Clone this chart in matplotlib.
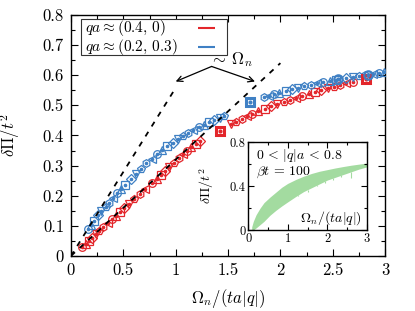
import matplotlib
matplotlib.use("Agg")
import matplotlib.pyplot as plt
import numpy as np
from matplotlib.ticker import MultipleLocator
from matplotlib.patches import Rectangle

plt.rcParams['font.family'] = ['cmr10', 'DejaVu Serif']
plt.rcParams['mathtext.fontset'] = 'cm'
plt.rcParams['axes.formatter.use_mathtext'] = True
plt.rcParams['axes.unicode_minus'] = False

# ---- data ----
red_x = [0.11, 0.14, 0.17, 0.20, 0.24, 0.27, 0.31, 0.35, 0.39, 0.43, 0.47, 0.51, 0.55,
         0.60, 0.66, 0.71, 0.77, 0.82, 0.86, 0.90, 0.94, 0.98, 1.03, 1.07, 1.11, 1.15,
         1.19, 1.23, 1.53, 1.58, 1.63, 1.68, 1.73, 1.79, 1.85, 1.91, 1.97, 2.03, 2.09,
         2.15, 2.21, 2.27, 2.33, 2.39, 2.45, 2.51, 2.57, 2.63, 2.69]
red_y = [0.030, 0.040, 0.050, 0.060, 0.072, 0.082, 0.095, 0.108, 0.121, 0.134, 0.147,
         0.160, 0.172, 0.188, 0.207, 0.222, 0.241, 0.257, 0.270, 0.283, 0.296, 0.309,
         0.325, 0.338, 0.350, 0.362, 0.373, 0.383, 0.437, 0.446, 0.455, 0.463, 0.471,
         0.480, 0.489, 0.497, 0.505, 0.512, 0.518, 0.525, 0.532, 0.538, 0.544, 0.550,
         0.556, 0.562, 0.568, 0.573, 0.578]
red_special_x = [1.42, 2.82]
red_special_y = [0.415, 0.587]

blue_x = [0.16, 0.19, 0.22, 0.26, 0.29, 0.33, 0.36, 0.40, 0.44, 0.48, 0.52, 0.57, 0.62,
          0.67, 0.72, 0.77, 0.82, 0.87, 0.92, 0.97, 1.02, 1.07, 1.12, 1.17, 1.22, 1.27,
          1.32, 1.37, 1.42, 1.46, 1.84, 1.89, 1.94, 1.99, 2.05, 2.11, 2.17, 2.23, 2.29,
          2.35, 2.41, 2.47, 2.53, 2.63, 2.69, 2.75, 2.81, 2.88, 2.94, 2.99]
blue_y = [0.090, 0.104, 0.117, 0.135, 0.148, 0.164, 0.176, 0.192, 0.208, 0.222, 0.237,
          0.255, 0.273, 0.290, 0.307, 0.322, 0.337, 0.351, 0.364, 0.376, 0.388, 0.398,
          0.408, 0.418, 0.427, 0.435, 0.443, 0.451, 0.459, 0.466, 0.526, 0.531, 0.537,
          0.542, 0.548, 0.554, 0.559, 0.564, 0.569, 0.573, 0.577, 0.581, 0.584, 0.590,
          0.593, 0.596, 0.600, 0.604, 0.608, 0.612]
blue_special_x = [1.71, 2.55, 2.84]
blue_special_y = [0.511, 0.587, 0.600]

marker_cycle = "o^sDvph<"

legend_labels = [r'$qa \approx (0.4,\, 0)$', r'$qa \approx (0.2,\, 0.3)$']

# dashed guide lines (~ Omega_n)
blue_line_x = [0.0, 1.0]
blue_line_y = [0.0, 0.558]
red_line_x = [0.0, 2.0]
red_line_y = [0.0, 0.64]

# inset band
band_x = [0.09, 0.13, 0.2, 0.3, 0.4, 0.55, 0.7, 0.85, 1.0, 1.2, 1.4, 1.6, 1.8, 2.0, 2.2, 2.4, 2.6, 2.8, 3.0]
band_hi = [0.03, 0.08, 0.14, 0.20, 0.25, 0.30, 0.345, 0.39, 0.425, 0.46, 0.49, 0.515, 0.535, 0.55, 0.565, 0.578, 0.59, 0.60, 0.61]
band_lo = [0.0, 0.0, 0.02, 0.05, 0.08, 0.135, 0.18, 0.22, 0.257, 0.305, 0.35, 0.385, 0.42, 0.455, 0.48, 0.505, 0.53, 0.555, 0.575]
spike_x = [1.25, 1.5, 1.75, 1.95, 2.15, 2.35, 2.6]
spike_lo = [0.31, 0.35, 0.40, 0.43, 0.46, 0.48, 0.47]

xticks = [0, 0.5, 1, 1.5, 2, 2.5, 3]
xticklabels = ["0", "0.5", "1", "1.5", "2", "2.5", "3"]
yticks = [0, 0.1, 0.2, 0.3, 0.4, 0.5, 0.6, 0.7, 0.8]
yticklabels = ["0", "0.1", "0.2", "0.3", "0.4", "0.5", "0.6", "0.7", "0.8"]
in_xticks = [0, 1, 2, 3]
in_xticklabels = ["0", "1", "2", "3"]
in_yticks = [0, 0.4, 0.8]
in_yticklabels = ["0", "0.4", "0.8"]

RED = '#e3262b'
BLUE = '#3f80c4'
GREEN = '#a3dba0'

fig = plt.figure(figsize=(4.15, 3.11), dpi=100)
ax = fig.add_axes([0.171, 0.177, 0.757, 0.775])

def scatter_series(xs, ys, color):
    for i, (x, y) in enumerate(zip(xs, ys)):
        m = marker_cycle[i % len(marker_cycle)]
        ax.plot([x], [y], linestyle='none', marker=m, ms=5.5, mfc='none',
                mec=color, mew=0.9, zorder=3)
    ax.plot(xs, ys, linestyle='none', marker='o', ms=1.6, color=color, zorder=3)

scatter_series(red_x, red_y, RED)
scatter_series(blue_x, blue_y, BLUE)
ax.plot(red_special_x, red_special_y, linestyle='none', marker='s', ms=6, mfc='none',
        mec=RED, mew=2.2, zorder=4)
ax.plot(red_special_x, red_special_y, linestyle='none', marker='o', ms=2, color=RED, zorder=4)
ax.plot(blue_special_x[:1], blue_special_y[:1], linestyle='none', marker='s', ms=6, mfc='none',
        mec=BLUE, mew=2.2, zorder=4)
ax.plot(blue_special_x[1:], blue_special_y[1:], linestyle='none', marker='o', ms=6, mfc='none',
        mec=BLUE, mew=1.6, zorder=4)
ax.plot(blue_special_x, blue_special_y, linestyle='none', marker='o', ms=2, color=BLUE, zorder=4)

ax.plot(blue_line_x, blue_line_y, color='black', ls=(0, (3.0, 3.5)), lw=1.3, zorder=5)
ax.plot(red_line_x, red_line_y, color='black', ls=(0, (3.0, 3.5)), lw=1.3, zorder=5)

# manual legend box (text left, line handle right)
ax.add_patch(Rectangle((0.032, 0.832), 0.465, 0.150, transform=ax.transAxes,
                       facecolor='white', edgecolor='#333333', lw=0.8, zorder=6))
for lab, col, yy in zip(legend_labels, [RED, BLUE], [0.947, 0.868]):
    ax.text(0.046, yy, lab, transform=ax.transAxes, fontsize=11, ha='left',
            va='center', zorder=7)
    ax.plot([0.405, 0.458], [yy, yy], transform=ax.transAxes, color=col, lw=1.5,
            zorder=7, solid_capstyle='butt')

# annotation
ax.text(1.53, 0.652, r'$\sim\,\Omega_n$', fontsize=12, ha='center', va='center')
ax.annotate('', xy=(1.0, 0.579), xytext=(1.343, 0.629),
            arrowprops=dict(arrowstyle='->', lw=0.9, color='black', shrinkA=0, shrinkB=0))
ax.annotate('', xy=(1.757, 0.579), xytext=(1.343, 0.629),
            arrowprops=dict(arrowstyle='->', lw=0.9, color='black', shrinkA=0, shrinkB=0))

ax.set_xlim(0, 3)
ax.set_ylim(0, 0.8)
ax.set_xticks(xticks)
ax.set_xticklabels(xticklabels)
ax.set_yticks(yticks)
ax.set_yticklabels(yticklabels)
ax.xaxis.set_minor_locator(MultipleLocator(0.25))
ax.yaxis.set_minor_locator(MultipleLocator(0.05))
ax.tick_params(which='both', direction='in', top=True, right=True, labelsize=12, pad=5)
ax.tick_params(which='major', length=5, width=0.8)
ax.tick_params(which='minor', length=3, width=0.8)
ax.set_xlabel(r'$\Omega_n/(ta|q|)$', fontsize=12)
ax.set_ylabel(r'$\delta\Pi/t^2$', fontsize=12)
ax.xaxis.set_label_coords(0.5, -0.13)
ax.yaxis.set_label_coords(-0.155, 0.5)
for s in ax.spines.values():
    s.set_linewidth(1.0)

# inset
axi = fig.add_axes([0.598, 0.260, 0.286, 0.283])
axi.fill_between(band_x, band_lo, band_hi, color=GREEN, lw=0)
axi.vlines(spike_x, spike_lo, [np.interp(s, band_x, band_lo) for s in spike_x],
           color=GREEN, lw=0.8)
axi.set_xlim(0, 3)
axi.set_ylim(0, 0.8)
axi.set_xticks(in_xticks)
axi.set_xticklabels(in_xticklabels)
axi.set_yticks(in_yticks)
axi.set_yticklabels(in_yticklabels)
axi.xaxis.set_minor_locator(MultipleLocator(0.5))
axi.yaxis.set_minor_locator(MultipleLocator(0.2))
axi.tick_params(which='both', direction='in', top=True, right=True, labelsize=9, pad=2)
axi.tick_params(which='major', length=4, width=0.8)
axi.tick_params(which='minor', length=2, width=0.8)
axi.set_ylabel(r'$\delta\Pi/t^2$', fontsize=10)
axi.yaxis.set_label_coords(-0.27, 0.5)
axi.text(0.07, 0.95, r'$0 \,<\, |q|a \,<\, 0.8$', transform=axi.transAxes, fontsize=10,
         ha='left', va='top')
axi.text(0.07, 0.74, r'$\beta t \,=\, 100$', transform=axi.transAxes, fontsize=10,
         ha='left', va='top')
axi.text(0.96, 0.04, r'$\Omega_n/(ta|q|)$', transform=axi.transAxes, fontsize=10,
         ha='right', va='bottom')
for s in axi.spines.values():
    s.set_linewidth(1.0)

fig.savefig('out.png', dpi=100)
